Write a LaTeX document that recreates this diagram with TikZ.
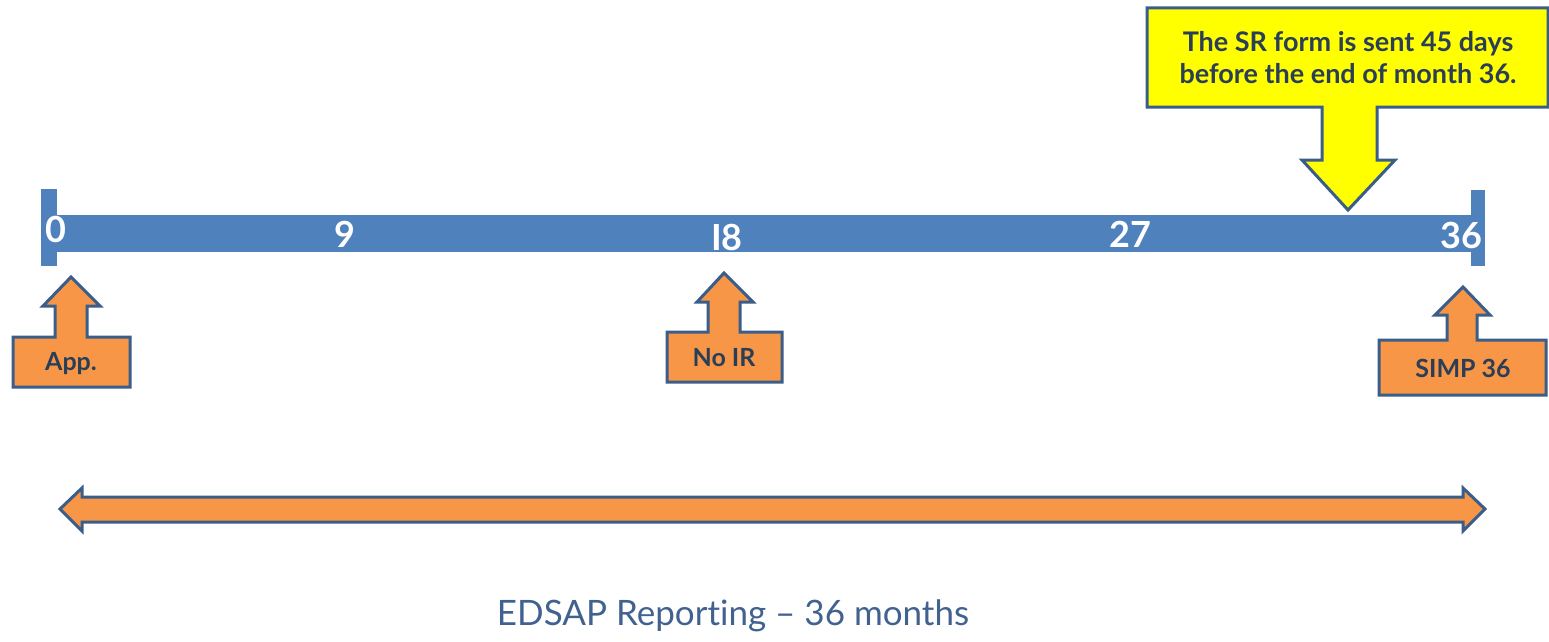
\documentclass[tikz,border=0pt]{standalone}
\usepackage{fontspec}
\setmainfont[Ligatures=NoCommon]{Lato}
\definecolor{barblue}{HTML}{4F81BD}
\definecolor{edge}{HTML}{3A5D8A}
\definecolor{boxorange}{HTML}{F79646}
\definecolor{calloutyellow}{HTML}{FFFF00}
\definecolor{inktext}{HTML}{2A3F57}
\definecolor{titletext}{HTML}{41618F}
\tikzset{
  shapeline/.style={draw=edge, line width=3pt, line join=miter},
  orangeshape/.style={shapeline, fill=boxorange},
  yellowshape/.style={shapeline, fill=calloutyellow},
  monthlabel/.style={anchor=base, text=white, font=\bfseries\fontsize{36}{36}\selectfont, inner sep=0pt},
  boxlabel/.style={text=inktext, font=\bfseries\fontsize{25}{25}\selectfont, inner sep=0pt},
}
\begin{document}
\begin{tikzpicture}[x=1pt,y=-1pt]
\useasboundingbox (0,0) rectangle (1549,642);

% timeline bar with end ticks
\fill[barblue] (57,215) rectangle (1471,252);
\fill[barblue] (41,189) rectangle (57,266);
\fill[barblue] (1471,190) rectangle (1485,266);

% month numbers
\node[monthlabel] (m0)  at (56,242)   {0};
\node[monthlabel] (m9)  at (345,247)  {9};
\node[monthlabel] (m18) at (727,250)  {I8};
\node[monthlabel] (m27) at (1130,247) {27};
\node[monthlabel] (m36) at (1461,248) {36};

% SR form callout pointing down onto the bar
\draw[yellowshape] (1147,8) -- (1548,8) -- (1548,107) -- (1377,107) -- (1377,160)
  -- (1395,160) -- (1348,210) -- (1302,160) -- (1322,160) -- (1322,107)
  -- (1147,107) -- cycle;
\node[boxlabel, align=center, font=\bfseries\fontsize{27}{32}\selectfont] (sr) at (1348,58)
  {The SR form is sent 45 days\\before the end of month 36.};

% milestone callouts pointing up at the bar
\draw[orangeshape] (13,387) -- (13,337) -- (55,337) -- (55,306) -- (43,306)
  -- (71,277) -- (100,306) -- (87,306) -- (87,337) -- (130,337) -- (130,387) -- cycle;
\node[boxlabel] (app) at (71,364) {App.};

\draw[orangeshape] (667,382) -- (667,332) -- (708,332) -- (708,302) -- (697,302)
  -- (724,273) -- (753,302) -- (740,302) -- (740,332) -- (782,332) -- (782,382) -- cycle;
\node[boxlabel] (noir) at (724,358) {No IR};

\draw[orangeshape] (1379,395) -- (1379,340) -- (1447,340) -- (1447,315) -- (1435,315)
  -- (1463,287) -- (1490,315) -- (1477,315) -- (1477,340) -- (1546,340) -- (1546,395) -- cycle;
\node[boxlabel] (simp) at (1463,368) {SIMP 36};

% reporting span
\draw[orangeshape] (60,509) -- (82,488) -- (82,497) -- (1463,497) -- (1463,488)
  -- (1485,509) -- (1463,531) -- (1463,522) -- (82,522) -- (82,531) -- cycle;

\node[anchor=base, text=titletext, font=\fontsize{35}{35}\selectfont, inner sep=0pt]
  (title) at (733,625) {EDSAP Reporting – 36 months};
\end{tikzpicture}
\end{document}
